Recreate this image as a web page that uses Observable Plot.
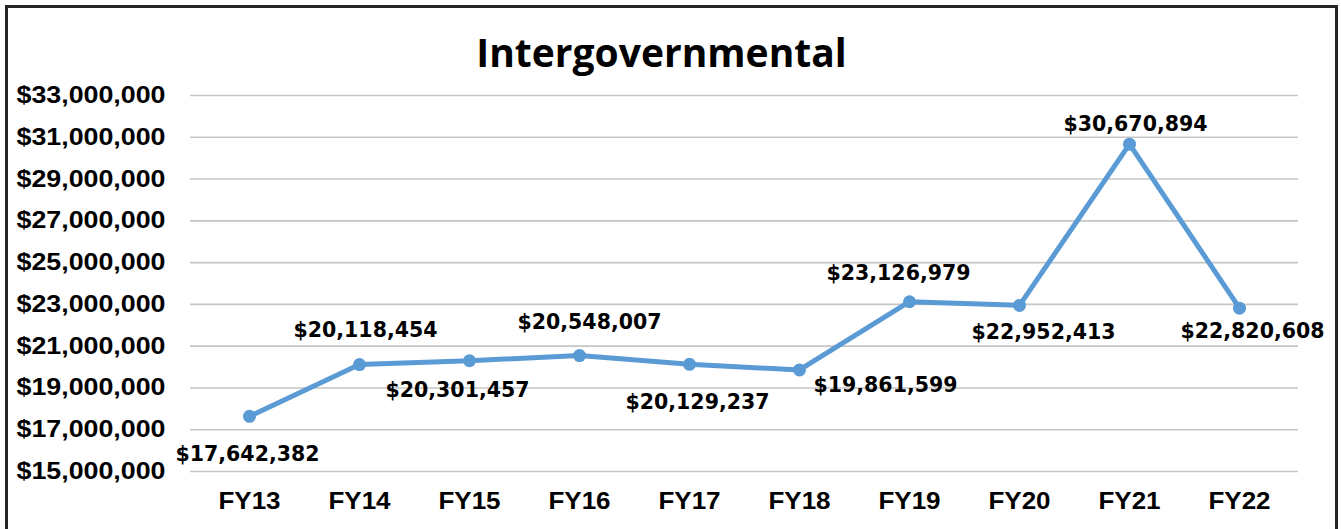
<!DOCTYPE html>
<html>
<head>
<meta charset="utf-8">
<script src="https://cdn.jsdelivr.net/npm/d3@7"></script>
<script src="https://cdn.jsdelivr.net/npm/@observablehq/plot@0.6"></script>
<style>
  html, body { margin: 0; padding: 0; background: #fff; overflow: hidden; }
  #wrap { position: relative; width: 1341px; height: 529px; }
  #wrap svg { display: block; position: absolute; left: 0; top: 0; }
  #frame { position: absolute; left: 5px; top: 5px; width: 1327px; height: 600px; border: 3px solid #262626; pointer-events: none; }
</style>
</head>
<body>
<div id="wrap"><div id="frame"></div></div>
<script>
// Data
const title = "Intergovernmental";
const years = ["FY13", "FY14", "FY15", "FY16", "FY17", "FY18", "FY19", "FY20", "FY21", "FY22"];
const values = [17642382, 20118454, 20301457, 20548007, 20129237, 19861599, 23126979, 22952413, 30670894, 22820608];
const yTicks = [15000000, 17000000, 19000000, 21000000, 23000000, 25000000, 27000000, 29000000, 31000000, 33000000];

// Label placement offsets (styling, px relative to each point)
const labelDx = [-2, 6, -12, 10, 8, 86, -11, 24, 6, 13];
const labelDy = [38, -34, 30, -33, 38, 15, -28, 27, -20, 23];

const data = years.map((y, i) => ({year: y, value: values[i]}));
const money = d => "$" + d3.format(",")(d);

const labelMarks = data.map((d, i) =>
  Plot.text([d], {
    x: "year", y: "value", text: r => money(r.value),
    dx: labelDx[i], dy: labelDy[i],
    fontFamily: "DejaVu Sans", fontWeight: "bold", fontSize: 20.5, fill: "#000",
    lineAnchor: "middle"
  })
);

const chart = Plot.plot({
  width: 1341,
  height: 529,
  marginLeft: 190,
  marginRight: 43,
  marginTop: 95,
  marginBottom: 58,
  style: {fontFamily: "Liberation Sans", fontWeight: "bold", color: "#000", background: "transparent"},
  x: {type: "point", domain: years, padding: 0.5},
  y: {domain: [15000000, 33000000]},
  marks: [
    Plot.ruleY(yTicks, {stroke: "#c6c6c6", strokeWidth: 1.6}),
    Plot.axisY({ticks: yTicks, tickFormat: money, tickSize: 0, tickPadding: 25, label: null,
      fontSize: 23.5, fontWeight: "bold", fontFamily: "Liberation Sans", fill: "#000"}),
    Plot.axisX({tickSize: 0, tickPadding: 21, label: null,
      fontSize: 23, fontWeight: "bold", fontFamily: "Liberation Sans", fill: "#000"}),
    Plot.line(data, {x: "year", y: "value", stroke: "#5B9BD5", strokeWidth: 5, strokeLinejoin: "round", strokeLinecap: "round"}),
    Plot.dot(data, {x: "year", y: "value", r: 6.5, fill: "#5B9BD5", stroke: "none"}),
    ...labelMarks,
    Plot.text([title], {text: d => d, frameAnchor: "top", dx: -83, dy: -41, lineAnchor: "middle",
      fontFamily: "Open Sans", fontWeight: "bold", fontSize: 39, fill: "#000"})
  ]
});

document.getElementById("wrap").insertBefore(chart, document.getElementById("frame"));

// Widen the axis tick labels slightly, as in the reference
function stretch(selector, factor) {
  chart.querySelectorAll(selector).forEach(t => {
    const w = t.getComputedTextLength();
    t.setAttribute("textLength", (w * factor).toFixed(1));
    t.setAttribute("lengthAdjust", "spacingAndGlyphs");
  });
}
stretch('g[aria-label="y-axis tick label"] text', 1.14);
stretch('g[aria-label="x-axis tick label"] text', 1.13);
</script>
</body>
</html>
